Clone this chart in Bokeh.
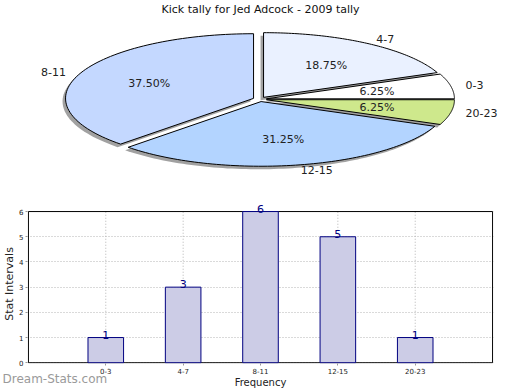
import numpy as np
from bokeh.plotting import figure
from bokeh.models import Range1d, FixedTicker, Label, LabelSet, ColumnDataSource
from bokeh.embed import file_html
from bokeh.resources import INLINE
from bokeh.core.properties import value

# ---------------- data ----------------
title_text = "Kick tally for Jed Adcock - 2009 tally"
categories = ["0-3", "4-7", "8-11", "12-15", "20-23"]
counts = [1, 3, 6, 5, 1]
y_ticks = [0, 1, 2, 3, 4, 5, 6]
y_label = "Stat Intervals"
x_label = "Frequency"
watermark = "Dream-Stats.com"

# ---------------- style ----------------
FONT = "DejaVu Sans"
pie_colors = ["#ffffff", "#eaf1ff", "#c4d8ff", "#b3d4ff", "#cee88c"]
W = 520
PIE_H = 190
BAR_H = 200
RX = 188.0        # px per unit (x) of the pie ellipse
RY = 64.3         # px per unit (y)
CX = 259.3        # pie centre, px from figure left
TITLE_H = 16      # assumed title panel height
CY = 99.3         # pie centre, px from figure top
EXPLODE = 0.036
SH_DX, SH_DY = -3.0, 3.0
TOP_PAD = 0.28    # room above the box for value labels (data units)
EPS_X, EPS_Y = 0.012, 0.03

# ---------------- pie ----------------
pie = figure(width=W, height=PIE_H, output_backend="svg", toolbar_location=None,
             min_border=0, title=title_text, x_axis_location=None, y_axis_location=None)
pie.title.text_font = FONT
pie.title.text_font_size = "11px"
pie.title.text_font_style = "normal"
pie.title.text_color = "#111111"
pie.title.align = "center"
pie.title.standoff = 0
pie.title.offset = 0
frame_h = PIE_H - TITLE_H
top_px = CY - TITLE_H
pie.x_range = Range1d(-CX / RX, (W - CX) / RX)
pie.y_range = Range1d(-(frame_h - top_px) / RY, top_px / RY)
pie.grid.visible = False
pie.outline_line_color = None
pie.background_fill_color = "white"
pie.border_fill_color = "white"

total = float(sum(counts))
fracs = [c / total for c in counts]
starts = np.cumsum([0] + fracs[:-1]) * 2 * np.pi
ends = np.cumsum(fracs) * 2 * np.pi
mids = (starts + ends) / 2

xs_list, ys_list, sxs, sys_ = [], [], [], []
for a0, a1, m in zip(starts, ends, mids):
    ox, oy = EXPLODE * np.cos(m), EXPLODE * np.sin(m)
    t = np.linspace(a0, a1, 80)
    px = np.concatenate([[ox], ox + np.cos(t)])
    py = np.concatenate([[oy], oy + np.sin(t)])
    xs_list.append(px.tolist())
    ys_list.append(py.tolist())
    sxs.append((px + SH_DX / RX).tolist())
    sys_.append((py - SH_DY / RY).tolist())

pie.patches(xs=sxs, ys=sys_, fill_color="#8a8a8a", fill_alpha=0.8, line_color=None)
pie.patches(xs=xs_list, ys=ys_list, fill_color=pie_colors, line_color="black", line_width=1)

pct_src = ColumnDataSource(dict(
    x=[EXPLODE * np.cos(m) + 0.6 * np.cos(m) for m in mids],
    y=[EXPLODE * np.sin(m) + 0.6 * np.sin(m) for m in mids],
    t=["%.2f%%" % (f * 100) for f in fracs]))
pie.text(x="x", y="y", text="t", source=pct_src, text_font=value(FONT),
         text_font_size="11px", text_align="center", text_baseline="middle", text_color="#222222")

lab_src = ColumnDataSource(dict(
    x=[EXPLODE * np.cos(m) + 1.08 * np.cos(m) for m in mids],
    y=[EXPLODE * np.sin(m) + 1.08 * np.sin(m) for m in mids],
    t=categories,
    a=["left" if np.cos(m) >= 0 else "right" for m in mids]))
pie.text(x="x", y="y", text="t", source=lab_src, text_font=value(FONT),
         text_font_size="11px", text_align="a", text_baseline="middle", text_color="#222222")

# ---------------- bar ----------------
n = len(categories)
xpos = list(range(1, n + 1))
bar = figure(width=W, height=BAR_H, output_backend="svg", toolbar_location=None,
             x_range=Range1d(-EPS_X, n + 1 + EPS_X),
             y_range=Range1d(y_ticks[0] - EPS_Y, y_ticks[-1] + TOP_PAD),
             min_border_left=25, min_border_right=27, min_border_top=11, min_border_bottom=14)
bar.background_fill_color = "white"
bar.border_fill_color = "white"
bar.outline_line_color = None

bar.xgrid.visible = False
bar.ygrid.grid_line_color = "#b4b4b4"
bar.ygrid.grid_line_dash = "1 2"
bar.ygrid.ticker = FixedTicker(ticks=y_ticks)
bar.segment(x0=xpos, y0=[y_ticks[0]] * n, x1=xpos, y1=[y_ticks[-1]] * n,
            line_color="#b4b4b4", line_dash="1 2", line_width=1)

bar.quad(left=[0], right=[n + 1], bottom=[y_ticks[0]], top=[y_ticks[-1]],
         fill_color=None, line_color="black", line_width=1)

bar.vbar(x=xpos, top=counts, width=0.46, fill_color="#ccccE6", line_color="#000080", line_width=1)
val_src = ColumnDataSource(dict(x=xpos, y=counts, t=[str(c) for c in counts]))
bar.add_layout(LabelSet(x="x", y="y", text="t", source=val_src, text_font=value(FONT),
                        text_font_size="11px", text_align="center", text_baseline="alphabetic",
                        text_color="#000080", y_offset=-1))

bar.xaxis.ticker = FixedTicker(ticks=xpos)
bar.xaxis.major_label_overrides = {x: c for x, c in zip(xpos, categories)}
bar.yaxis.ticker = FixedTicker(ticks=y_ticks)
for ax in (bar.xaxis, bar.yaxis):
    ax.axis_line_color = None
    ax.major_tick_in = 0
    ax.major_tick_out = 2
    ax.major_tick_line_color = "#999999"
    ax.minor_tick_line_color = None
    ax.major_label_text_font = FONT
    ax.major_label_text_font_size = "7px"
    ax.major_label_text_color = "#222222"
    ax.axis_label_text_font = FONT
    ax.axis_label_text_font_style = "normal"
    ax.axis_label_text_color = "#222222"
bar.xaxis.major_label_standoff = 2
bar.yaxis.major_label_standoff = 2
bar.yaxis.axis_label = y_label
bar.yaxis.axis_label_text_font_size = "11px"
bar.yaxis.axis_label_standoff = 0
bar.xaxis.axis_label = x_label
bar.xaxis.axis_label_text_font_size = "10px"
bar.xaxis.axis_label_standoff = 0

# watermark: lives in the top side-panel, drawn down at the bottom-left corner
bar.add_layout(Label(x=-25, y=-167, x_units="screen", y_units="screen", text=watermark,
                     text_font=FONT, text_font_size="12px", text_color="#9a9a9a",
                     text_baseline="top"), "above")

open("out.html", "w").write(file_html([pie, bar], INLINE))
